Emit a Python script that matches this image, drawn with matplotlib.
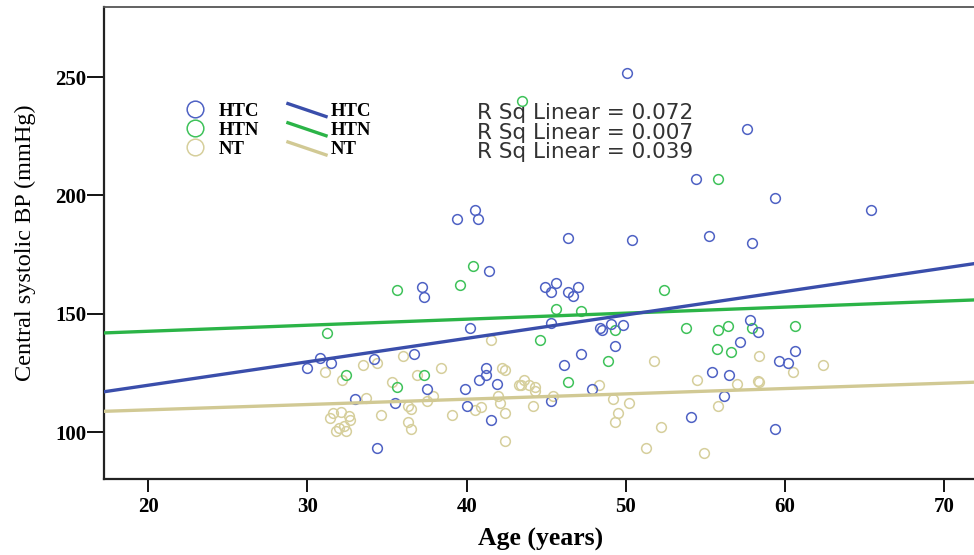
import numpy as np
import matplotlib
matplotlib.use("Agg")
import matplotlib.pyplot as plt
from matplotlib.lines import Line2D
from matplotlib.legend_handler import HandlerBase

plt.rcParams['font.family'] = ['Liberation Serif', 'DejaVu Serif']

# ---- data ----
htc_age = [50.1, 57.6, 54.4, 59.4, 65.4, 39.4, 40.5, 40.7, 46.4, 50.4, 55.2, 57.9,
           41.4, 37.2, 37.3, 44.9, 45.6, 45.3, 46.4, 47.0, 46.7, 40.2, 30.8, 30.0,
           31.5, 34.2, 36.7, 37.5, 33.0, 35.5, 34.4, 39.9, 40.0, 40.8, 41.2, 41.2,
           41.9, 41.5, 45.3, 48.4, 48.5, 49.1, 49.8, 49.3, 47.2, 46.1, 47.9, 45.3,
           57.2, 55.4, 56.5, 56.2, 54.1, 57.8, 58.3, 60.6, 59.6, 60.2, 59.4]
htc_bp = [251.7, 228, 206.8, 198.8, 193.9, 190, 193.9, 190, 182, 181, 183, 180,
          168, 161.3, 157.2, 161.1, 163.2, 159, 159.2, 161.1, 157.3, 144.1, 131.3, 127.1,
          129.2, 131, 133.1, 118.2, 114.1, 112.2, 93.3, 118.2, 111.2, 122.2, 127.1, 124.3,
          120.2, 105.3, 146.1, 144, 143, 145.8, 145.1, 136.2, 133.1, 128.2, 118.2, 113.3,
          138.2, 125.2, 124.3, 115.1, 106.3, 147.2, 142.1, 134.1, 130.2, 129.2, 101.3]

htn_age = [43.5, 55.8, 40.4, 35.6, 39.6, 52.4, 45.6, 47.2, 31.2, 32.4, 37.3, 35.6,
           44.6, 49.3, 48.9, 46.4, 53.8, 55.8, 56.4, 55.7, 56.6, 57.9, 60.6]
htn_bp = [240, 206.8, 170, 160, 162, 160, 152, 151, 142, 124, 124, 119,
          139, 143, 130, 121, 144, 143, 145, 135, 134, 144, 145]

nt_age = [41.5, 31.1, 32.2, 33.5, 34.4, 36.0, 38.4, 36.9, 35.3, 37.9, 33.7, 36.3,
          36.5, 37.5, 34.6, 31.6, 32.1, 31.4, 32.6, 32.7, 32.0, 31.8, 32.4, 32.3,
          36.3, 36.5, 39.1, 40.5, 40.9, 42.2, 42.4, 43.3, 42.0, 42.1, 42.4, 42.4,
          48.3, 45.4, 43.6, 43.4, 44.3, 44.3, 43.9, 44.2, 49.2, 50.2, 49.5, 49.3,
          52.2, 51.3, 54.9, 51.8, 54.5, 55.8, 57.0, 58.4, 62.4, 60.5, 58.3, 58.4]
nt_bp = [139, 125.2, 122.2, 128.2, 129.2, 132.3, 127.2, 124, 121.3, 115.1, 114.4, 110.9,
         109.9, 113, 107.1, 108.1, 108.4, 106, 106.7, 105.3, 101.8, 100.3, 100.3, 102.4,
         104.3, 101.3, 107.1, 109.5, 110.5, 127.1, 126.1, 120.1, 115.1, 112.3, 108.1, 96.4,
         120.1, 115.1, 122.2, 120.1, 119.1, 117.2, 120.1, 111.2, 114.1, 112.2, 108.1, 104.3,
         102.2, 93.3, 91.2, 130.2, 122.2, 111.2, 120.3, 132.3, 128.2, 125.2, 121.4, 121.2]

groups = ['HTC', 'HTN', 'NT']
fit_intercept = [100.0, 137.5, 104.9]
fit_slope = [0.99, 0.255, 0.225]
r_squared = ['0.072', '0.007', '0.039']

x_ticks = [20, 30, 40, 50, 60, 70]
y_ticks = [100, 150, 200, 250]

marker_colors = ['#4f62c4', '#3fc25a', '#d6cf9c']
line_colors = ['#3a4eab', '#2bb447', '#d1c994']


class SlantLineHandler(HandlerBase):
    # SPSS draws the fit-line legend keys slanted
    def create_artists(self, legend, orig_handle, xdescent, ydescent,
                       width, height, fontsize, trans):
        ln = Line2D([-xdescent, -xdescent + width],
                    [height * 0.9 - ydescent, 0.0 - ydescent],
                    color=orig_handle.get_color(), lw=orig_handle.get_linewidth(),
                    solid_capstyle='butt')
        ln.set_transform(trans)
        return [ln]


fig = plt.figure(figsize=(9.74, 5.55), dpi=100)
ax = fig.add_axes([0.107, 0.137, 0.895, 0.850])

xmin, xmax = 17.23, 72.0
ax.set_xlim(xmin, xmax)
ax.set_ylim(80.2, 279.5)

ages = [htc_age, htn_age, nt_age]
bps = [htc_bp, htn_bp, nt_bp]
xs = np.array([xmin, xmax])

# NT drawn first so the coloured groups sit on top like the original
for i in [2, 1, 0]:
    ax.plot(ages[i], bps[i], linestyle='none', marker='o', ms=7,
            mfc='none', mec=marker_colors[i], mew=1.1, zorder=3)

for i in [2, 1, 0]:
    ax.plot(xs, fit_intercept[i] + fit_slope[i] * xs, color=line_colors[i],
            lw=2.4, zorder=4)

# legend: markers column then fit-line column
mk_handles = [Line2D([], [], linestyle='none', marker='o', ms=12, mfc='none',
                     mec=marker_colors[i], mew=1.1) for i in range(3)]
ln_handles = [Line2D([], [], color=line_colors[i], lw=2.4) for i in range(3)]
ax.legend(mk_handles + ln_handles, groups + groups, ncol=2,
          loc='upper left', bbox_to_anchor=(0.070, 0.82), frameon=False,
          prop={'family': 'Liberation Serif', 'weight': 'bold', 'size': 13.5},
          handlelength=2.2, handleheight=0.9, handletextpad=0.15, columnspacing=1.45,
          labelspacing=0.05, borderpad=0,
          handler_map={h: SlantLineHandler() for h in ln_handles})

rsq_text = '\n'.join('R Sq Linear = ' + r for r in r_squared)
ax.text(0.4275, 0.797, rsq_text, transform=ax.transAxes, ha='left', va='top',
        family='DejaVu Sans', fontsize=15.5, color='#333333', linespacing=0.97)

ax.set_xticks(x_ticks)
ax.set_yticks(y_ticks)
ax.tick_params(axis='x', direction='out', length=9, width=1.3, pad=4, labelsize=15)
ax.tick_params(axis='y', direction='out', length=12, width=1.3, pad=1, labelsize=15)
for lab in ax.get_xticklabels() + ax.get_yticklabels():
    lab.set_fontweight('bold')

for s in ['left', 'bottom']:
    ax.spines[s].set_linewidth(1.6)
    ax.spines[s].set_color('#222222')
ax.spines['top'].set_linewidth(1.3)
ax.spines['top'].set_color('#555555')
ax.spines['right'].set_visible(False)

ax.set_xlabel('Age (years)', fontsize=18.5, fontweight='bold', labelpad=8)
ax.set_ylabel('Central systolic BP (mmHg)', fontsize=17.5, labelpad=14)

fig.savefig('out.png', dpi=100)
